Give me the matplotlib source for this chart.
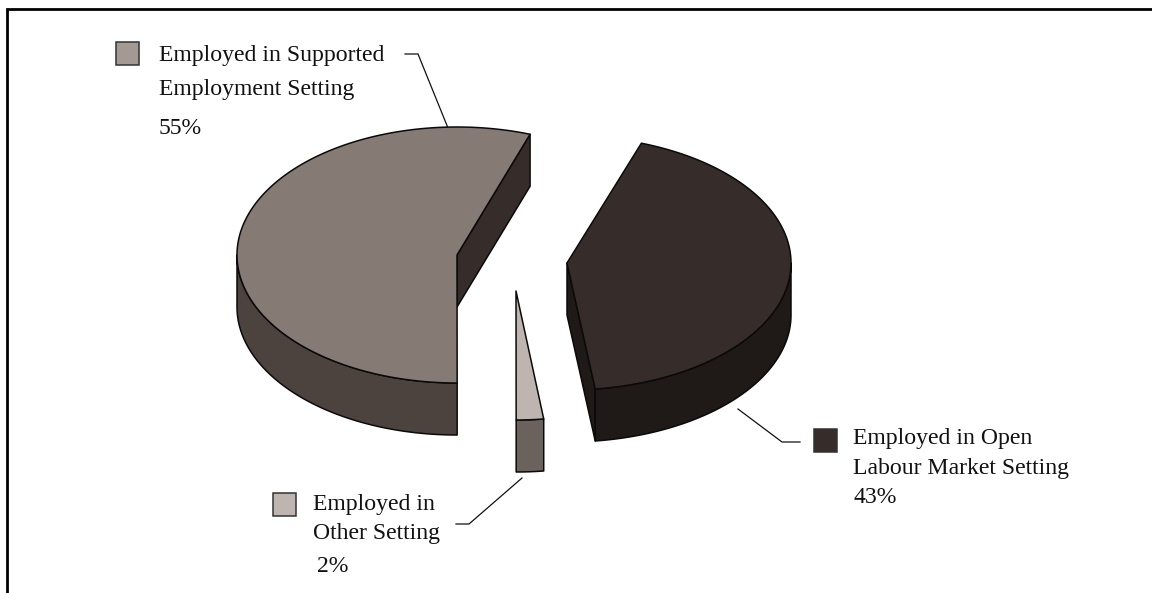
import numpy as np
import matplotlib
matplotlib.use("Agg")
import matplotlib.pyplot as plt
from matplotlib.patches import Polygon, Rectangle

categories = [["Employed in Open", "Labour Market Setting"],
              ["Employed in", "Other Setting"],
              ["Employed in Supported", "Employment Setting"]]
values = [42.6, 2.0, 55.4]
value_labels = ["43%", "2%", "55%"]

START = 19.4          # clockwise from 12 o'clock
DEPTH = 52
centres = [(567, 263), (516, 291), (457, 255)]
radii = [(224, 127), (220, 129), (220, 128)]
top_cols = ["#362c2a", "#bfb5b0", "#857a74"]
wall_cols = ["#1f1917", "#6b625d", "#4d433e"]
face_cols = ["#1f1917", "#6b625d", "#362c2a"]
legend_cols = ["#362c2a", "#bfb5b0", "#a39a93"]
EDGE = "#0a0a0a"

fig = plt.figure(figsize=(11.52, 5.93), dpi=100)
ax = fig.add_axes([0, 0, 1, 1])
ax.set_xlim(0, 1152)
ax.set_ylim(593, 0)
ax.axis("off")
plt.rcParams["font.family"] = "Liberation Serif"


def pt(c, r, deg):
    t = np.deg2rad(deg)
    return np.column_stack([c[0] + r[0] * np.sin(t), c[1] - r[1] * np.cos(t)])


def poly(xy, fc, z):
    ax.add_patch(Polygon(xy, closed=True, fc=fc, ec=EDGE, lw=1.1, joinstyle="round", zorder=z))


angle = START
for i, v in enumerate(values):
    a0, a1 = angle, angle + v * 3.6
    angle = a1
    c, r = centres[i], radii[i]
    apex = np.array([c], dtype=float)
    down = np.array([0, DEPTH])
    # visible radial cut face: the closing edge of the slice, if it faces the viewer
    if i != 1:
        e = pt(c, r, np.array([a1]))
        poly(np.vstack([apex, e, e + down, apex + down]), face_cols[i], 2 + i)
    # outer wall (front half of the rim only)
    lo, hi = max(a0, 90), min(a1, 270)
    if hi > lo:
        arc = pt(c, r, np.linspace(lo, hi, 120))
        poly(np.vstack([arc, (arc + down)[::-1]]), wall_cols[i], 3 + i)
    # top surface
    arc = pt(c, r, np.linspace(a0, a1, 240))
    poly(np.vstack([apex, arc]), top_cols[i], 4 + i)

FS = 17.1
txt = dict(fontsize=FS, family="Liberation Serif", color="#111111", va="baseline", ha="left")

# legend-like callouts
boxes = [(814, 429), (273, 493), (116, 42)]
text_x = [853, 313, 159]
line_y = [[444, 474], [510, 539], [61, 95]]
val_pos = [(853, 503), (317, 572), (159, 134)]
leaders = [[(738, 409), (782, 442), (800, 442)],
           [(522, 478), (469, 524), (456, 524)],
           [(405, 54), (418, 54), (448, 128)]]
for i in range(3):
    ax.add_patch(Rectangle(boxes[i], 22.5, 22.5, fc=legend_cols[i], ec="#333333", lw=1.1, zorder=10))
    for s, y in zip(categories[i], line_y[i]):
        ax.text(text_x[i], y, s, **txt)
    ax.text(val_pos[i][0], val_pos[i][1], value_labels[i], **txt)
    xs, ys = zip(*leaders[i])
    ax.plot(xs, ys, color="#111111", lw=0.9, zorder=1)

# outer frame: only the left and top rules are visible in the crop
ax.plot([7, 7, 1152], [593, 9, 9], color="black", lw=2.0, solid_joinstyle="miter", zorder=0)

fig.savefig("out.png", dpi=100, facecolor="white")
